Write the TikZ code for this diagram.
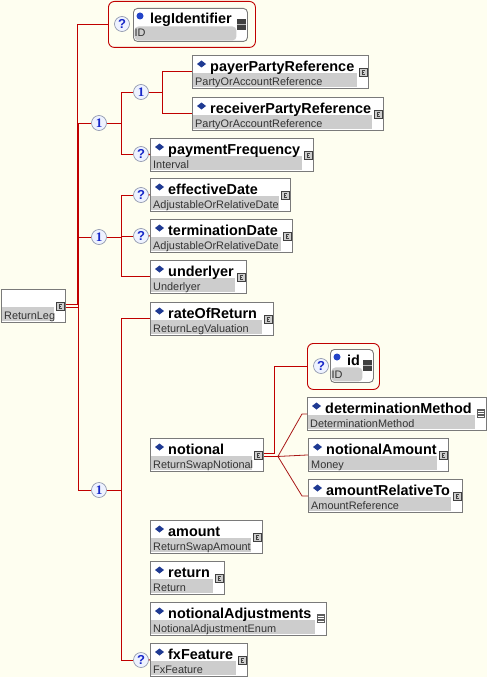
\documentclass[tikz,border=0pt]{standalone}
\usepackage{fontspec}
\setmainfont{Liberation Sans}
\newfontfamily\seqfont{Liberation Serif}
\usetikzlibrary{calc}

\definecolor{bgcream}{HTML}{FEFEF0}
\definecolor{linered}{HTML}{C00000}
\definecolor{fanred}{HTML}{A81818}
\definecolor{boxgray}{HTML}{7A7A7A}
\definecolor{stripgray}{HTML}{CDCDCD}
\definecolor{typetext}{HTML}{333333}
\definecolor{dmndblue}{HTML}{1F3A93}
\definecolor{dotblue}{HTML}{2444C8}
\definecolor{qblue}{HTML}{1828C8}
\definecolor{circfill}{HTML}{EEF2FF}
\definecolor{circedge}{HTML}{8890A8}
\definecolor{icondark}{HTML}{404040}

\newcommand{\namefont}{\fontsize{14.4}{16}\selectfont\bfseries}
\newcommand{\typefont}{\fontsize{10.9}{12}\selectfont}

\tikzset{
  elembox/.style={draw=boxgray, fill=white, line width=0.9pt, rectangle, anchor=north west,
    inner sep=0pt, minimum height=33pt,
    path picture={\fill[stripgray] ([xshift=1pt,yshift=1pt]path picture bounding box.south west)
      rectangle ([xshift=-11pt,yshift=-18pt]path picture bounding box.north east);}},
  attrbox/.style={elembox, rounded corners=4pt},
  wrapbox/.style={draw=linered, line width=0.9pt, rounded corners=6pt, rectangle, anchor=north west,
    inner sep=0pt, minimum height=46pt},
  nametext/.style={anchor=base west, inner sep=0pt, font=\namefont},
  typelabel/.style={anchor=base west, inner sep=0pt, font=\typefont, text=typetext},
  seqnode/.style={circle, draw=circedge, fill=circfill, line width=0.6pt, minimum size=15pt,
    inner sep=0pt, text=qblue, font={\seqfont\bfseries\fontsize{13}{13}\selectfont}},
  optnode/.style={seqnode, font={\bfseries\fontsize{13}{13}\selectfont}},
  conn/.style={draw=linered, line width=1pt},
  fan/.style={draw=fanred, line width=0.8pt}
}

% icons drawn at the right end of a box
\newcommand{\cplxicon}[1]{%
  \draw[fill=stripgray, draw=icondark, line width=0.6pt] ($(#1.north east)+(-10,-13)$) rectangle ++(8,-8);
  \draw[icondark, line width=0.6pt] ($(#1.north east)+(-4,-15)$) -- ++(-2.5,0) -- ++(0,-4) -- ++(2.5,0)
    ($(#1.north east)+(-6.5,-17)$) -- ++(2,0);}
\newcommand{\enumicon}[1]{%
  \fill[icondark!85] ($(#1.north east)+(-10,-12)$) rectangle ++(8,-9);
  \foreach \k in {1,2,3}
    \draw[white, line width=0.5pt] ($(#1.north east)+(-9,{-12-2.3*\k})$) -- ++(6,0);}
\newcommand{\attricon}[1]{%
  \fill[icondark] ($(#1.north east)+(-11,-11)$) rectangle ++(9,-11);
  \draw[gray!55, line width=0.8pt] ($(#1.north east)+(-11,-16.5)$) -- ++(9,0);}

% element box: name, x, y (from top), width, title, type
\newcommand{\xelem}[6]{%
  \node[elembox, minimum width=#4pt] (#1) at (#2,-#3) {};
  \fill[dmndblue] ($(#1.north west)+(9.5,-5.5)$) -- ++(4.5,-3.5) -- ++(-4.5,-3.5) -- ++(-4.5,3.5) -- cycle;
  \node[nametext] (#1-t) at ($(#1.north west)+(18,-16)$) {#5};
  \node[typelabel] (#1-y) at ($(#1.north west)+(3,-30)$) {#6};}
% attribute box
\newcommand{\xattr}[6]{%
  \node[attrbox, minimum width=#4pt] (#1) at (#2,-#3) {};
  \fill[dotblue] ($(#1.north west)+(7,-8)$) circle (3.5pt);
  \node[nametext] (#1-t) at ($(#1.north west)+(17,-16)$) {#5};
  \node[typelabel] (#1-y) at ($(#1.north west)+(1.5,-29)$) {#6};
  \attricon{#1}}

\begin{document}
\begin{tikzpicture}[x=1pt, y=1pt]
  \fill[bgcream] (0,0) rectangle (487,-677);
  \useasboundingbox (0,0) rectangle (487,-677);

  % root
  \node[elembox, minimum width=64pt] (rl) at (1,-289) {};
  \node[typelabel] (rl-y) at ($(rl.north west)+(3,-30)$) {ReturnLeg};
  \cplxicon{rl}

  % legIdentifier attribute
  \node[wrapbox, minimum width=147pt] (wlid) at (108,-1) {};
  \node[optnode] (qlid) at (122,-24) {?};
  \xattr{lid}{133}{8}{114}{legIdentifier}{ID}

  % first sequence
  \node[seqnode] (sq1) at (99,-123) {1};
  \node[seqnode] (sq2) at (141,-92) {1};
  \xelem{payer}{192}{55}{176}{payerPartyReference}{PartyOrAccountReference}\cplxicon{payer}
  \xelem{recv}{192}{97}{191}{receiverPartyReference}{PartyOrAccountReference}\cplxicon{recv}
  \node[optnode] (qpf) at (141,-154) {?};
  \xelem{pf}{150}{138}{163}{paymentFrequency}{Interval}\cplxicon{pf}

  % second sequence
  \node[seqnode] (sq3) at (99,-237) {1};
  \node[optnode] (qed) at (141,-195) {?};
  \xelem{ed}{150}{178}{140}{effectiveDate}{AdjustableOrRelativeDate}\cplxicon{ed}
  \node[optnode] (qtd) at (141,-236) {?};
  \xelem{td}{150}{219}{142}{terminationDate}{AdjustableOrRelativeDate}\cplxicon{td}
  \xelem{ul}{150}{260}{96}{underlyer}{Underlyer}\cplxicon{ul}

  % third sequence
  \node[seqnode] (sq4) at (99,-490) {1};
  \xelem{ror}{150}{302}{123}{rateOfReturn}{ReturnLegValuation}\cplxicon{ror}
  \xelem{ntl}{150}{438}{113}{notional}{ReturnSwapNotional}\cplxicon{ntl}
  \xelem{amt}{150}{520}{112}{amount}{ReturnSwapAmount}\cplxicon{amt}
  \xelem{ret}{150}{561}{74}{return}{Return}\cplxicon{ret}
  \xelem{nadj}{150}{602}{176}{notionalAdjustments}{NotionalAdjustmentEnum}\enumicon{nadj}
  \node[optnode] (qfx) at (141,-660) {?};
  \xelem{fx}{150}{643}{97}{fxFeature}{FxFeature}\cplxicon{fx}

  % notional children
  \node[wrapbox, minimum width=72pt] (wid) at (307,-343) {};
  \node[optnode] (qid) at (321,-366) {?};
  \xattr{idb}{330}{349}{43}{id}{ID}
  \xelem{detm}{307}{397}{179}{determinationMethod}{DeterminationMethod}\enumicon{detm}
  \xelem{namt}{308}{438}{140}{notionalAmount}{Money}\cplxicon{namt}
  \xelem{art}{308}{479}{154}{amountRelativeTo}{AmountReference}\cplxicon{art}

  % connectors
  \draw[conn] ([yshift=1.5pt]rl.east) -| ([xshift=-31pt]wlid.west) -- (wlid.west);
  \draw[conn] ([yshift=-1.5pt]rl.east) -| ([xshift=-12.5pt]sq1.west) -- (sq1.west);
  \draw[conn] ([yshift=-1.5pt]rl.east) -| ([xshift=-12.5pt]sq3.west) -- (sq3.west);
  \draw[conn] ([yshift=-1.5pt]rl.east) -| ([xshift=-12.5pt]sq4.west) -- (sq4.west);

  \draw[conn] (sq1.east) -- ++(15,0) |- (sq2.west);
  \draw[conn] (sq1.east) -- ++(15,0) |- (qpf.west);
  \draw[conn] (sq2.east) -- ++(14,0) |- (payer.west);
  \draw[conn] (sq2.east) -- ++(14,0) |- (recv.west);
  \draw[conn] (qpf.east) -- (pf.west);

  \draw[conn] (sq3.east) -- ++(15,0) |- (qed.west);
  \draw[conn] (sq3.east) -- ++(15,0) |- (qtd.west);
  \draw[conn] (sq3.east) -- ++(15,0) |- (ul.west);
  \draw[conn] (qed.east) -- (ed.west);
  \draw[conn] (qtd.east) -- (td.west);

  \draw[conn] (sq4.east) -- ++(14.5,0) |- (ror.west);
  \draw[conn] (sq4.east) -- ++(14.5,0) |- (qfx.west);
  \draw[conn] (qfx.east) -- (fx.west);

  \draw[conn] ([yshift=1.5pt]ntl.east) -- ++(11,0) |- (wid.west);
  \draw[conn] ([yshift=-1.5pt]ntl.east) -- ++(14,0);
  \draw[fan] ([yshift=-1.5pt]ntl.east) ++(14,0) -- ([xshift=-5pt]detm.west) -- (detm.west);
  \draw[fan] ([yshift=-1.5pt]ntl.east) ++(14,0) -- (namt.west);
  \draw[fan] ([yshift=-1.5pt]ntl.east) ++(14,0) -- ([xshift=-6pt]art.west) -- (art.west);
\end{tikzpicture}
\end{document}
